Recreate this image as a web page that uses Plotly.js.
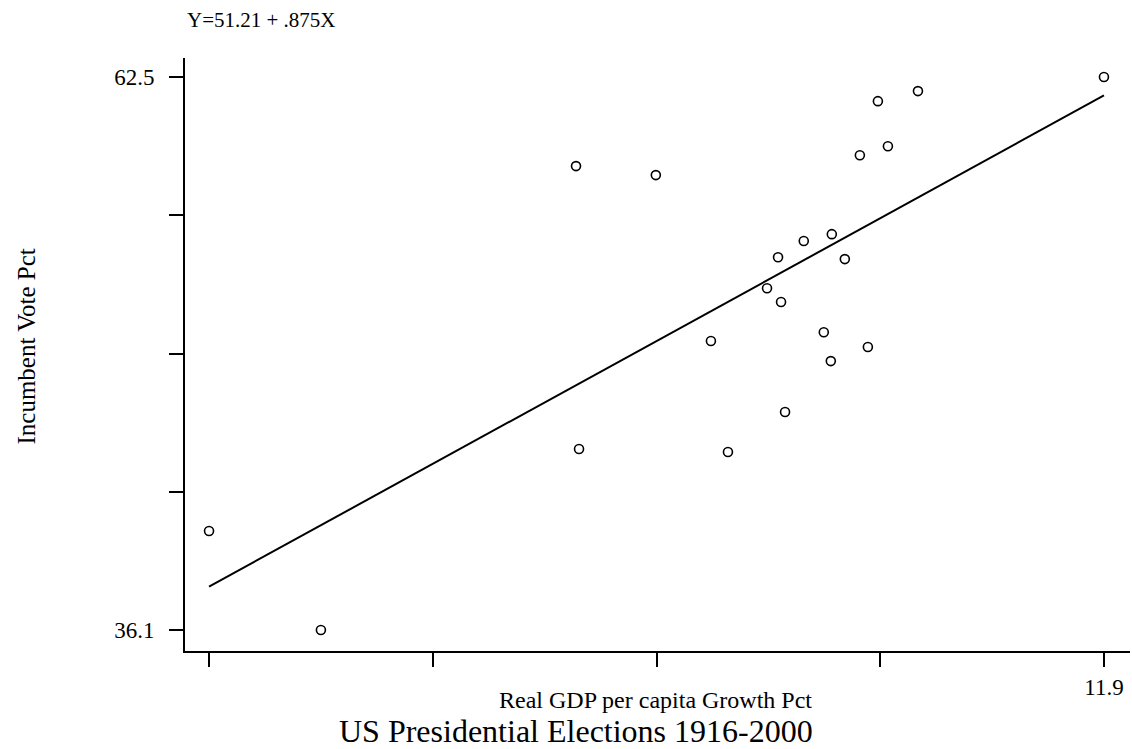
<!DOCTYPE html>
<html>
<head>
<meta charset="utf-8">
<script src="https://cdn.plot.ly/plotly-3.0.1.min.js"></script>
<style>html,body{margin:0;padding:0;background:#fff;}</style>
</head>
<body>
<div id="chart" style="width:1132px;height:749px;"></div>
<script>
// Real GDP per capita growth (%) and incumbent party vote share (%), 1916-2000
const growthPct = [-14.9, -11.55, -3.91, -3.82, -1.52, 0.13, 0.64, 1.81, 2.14, 2.23, 2.35,
                   2.91, 3.51, 3.75, 3.72, 4.14, 4.59, 4.83, 5.13, 5.43, 6.33, 11.9];
const votePct   = [40.83, 36.1, 58.25, 44.74, 57.82, 49.9, 44.6, 52.42, 53.9, 51.76, 46.51,
                   54.67, 50.32, 55.0, 48.94, 53.81, 58.77, 49.61, 61.35, 59.2, 61.83, 62.5];
const intercept = 51.21;
const slope = 0.875;
const equationLabel = 'Y=51.21 + .875X';
const xLabel = 'Real GDP per capita Growth Pct';
const yLabel = 'Incumbent Vote Pct';
const chartTitle = 'US Presidential Elections 1916-2000';

const xMin = Math.min(...growthPct), xMax = Math.max(...growthPct);
const yMin = Math.min(...votePct), yMax = Math.max(...votePct);
const xTicks = [0,1,2,3,4].map(i => xMin + i*(xMax - xMin)/4);
const yTicks = [0,1,2,3,4].map(i => yMin + i*(yMax - yMin)/4);
const xTickText = xTicks.map((v,i) => i === 4 ? xMax.toFixed(1) : '');
const yTickText = yTicks.map((v,i) => (i === 0 || i === 4) ? v.toFixed(1) : '');

const fitX = [xMin, xMax];
const fitY = fitX.map(x => intercept + slope*x);

const serif = '"Liberation Serif", "Times New Roman", serif';

const traces = [
  {x: growthPct, y: votePct, mode: 'markers', type: 'scatter',
   marker: {symbol: 'circle-open', size: 9, color: '#000', line: {width: 1.6, color: '#000'}},
   hoverinfo: 'x+y'},
  {x: fitX, y: fitY, mode: 'lines', type: 'scatter',
   line: {color: '#000', width: 2}, hoverinfo: 'skip'}
];

const layout = {
  width: 1132, height: 749,
  margin: {l: 185, r: 2, t: 58, b: 98},
  paper_bgcolor: '#fff', plot_bgcolor: '#fff',
  showlegend: false,
  font: {family: serif, color: '#000', size: 22},
  xaxis: {
    range: [-15.62, 12.68], showgrid: false, zeroline: false,
    showline: true, linecolor: '#000', linewidth: 2,
    ticks: 'outside', ticklen: 14, tickwidth: 2, tickcolor: '#000',
    tickvals: xTicks, ticktext: xTickText, tickfont: {family: serif, size: 23},
    ticklabelstandoff: 0
  },
  yaxis: {
    range: [35.1, 63.41], showgrid: false, zeroline: false,
    showline: true, linecolor: '#000', linewidth: 2,
    ticks: 'outside', ticklen: 14, tickwidth: 2, tickcolor: '#000',
    tickvals: yTicks, ticktext: yTickText, tickfont: {family: serif, size: 23},
    ticklabelstandoff: 10
  },
  annotations: [
    {text: equationLabel, xref: 'paper', yref: 'paper', x: 0, y: 1, xanchor: 'left', yanchor: 'middle',
     yshift: 38, showarrow: false, font: {family: serif, size: 21}},
    {text: xLabel, xref: 'paper', yref: 'paper', x: 0.5, y: 0, xanchor: 'center', yanchor: 'middle',
     xshift: -2, yshift: -49, showarrow: false, font: {family: serif, size: 24}},
    {text: yLabel, xref: 'paper', yref: 'paper', x: 0, y: 0.5, xanchor: 'center', yanchor: 'middle',
     xshift: -159, yshift: 8, textangle: -90, showarrow: false, font: {family: serif, size: 25}},
    {text: chartTitle, xref: 'paper', yref: 'paper', x: 0, y: 0, xanchor: 'center', yanchor: 'middle',
     xshift: 391, yshift: -80, showarrow: false, font: {family: serif, size: 32}}
  ]
};

Plotly.newPlot('chart', traces, layout, {staticPlot: true, displayModeBar: false});
</script>
</body>
</html>
